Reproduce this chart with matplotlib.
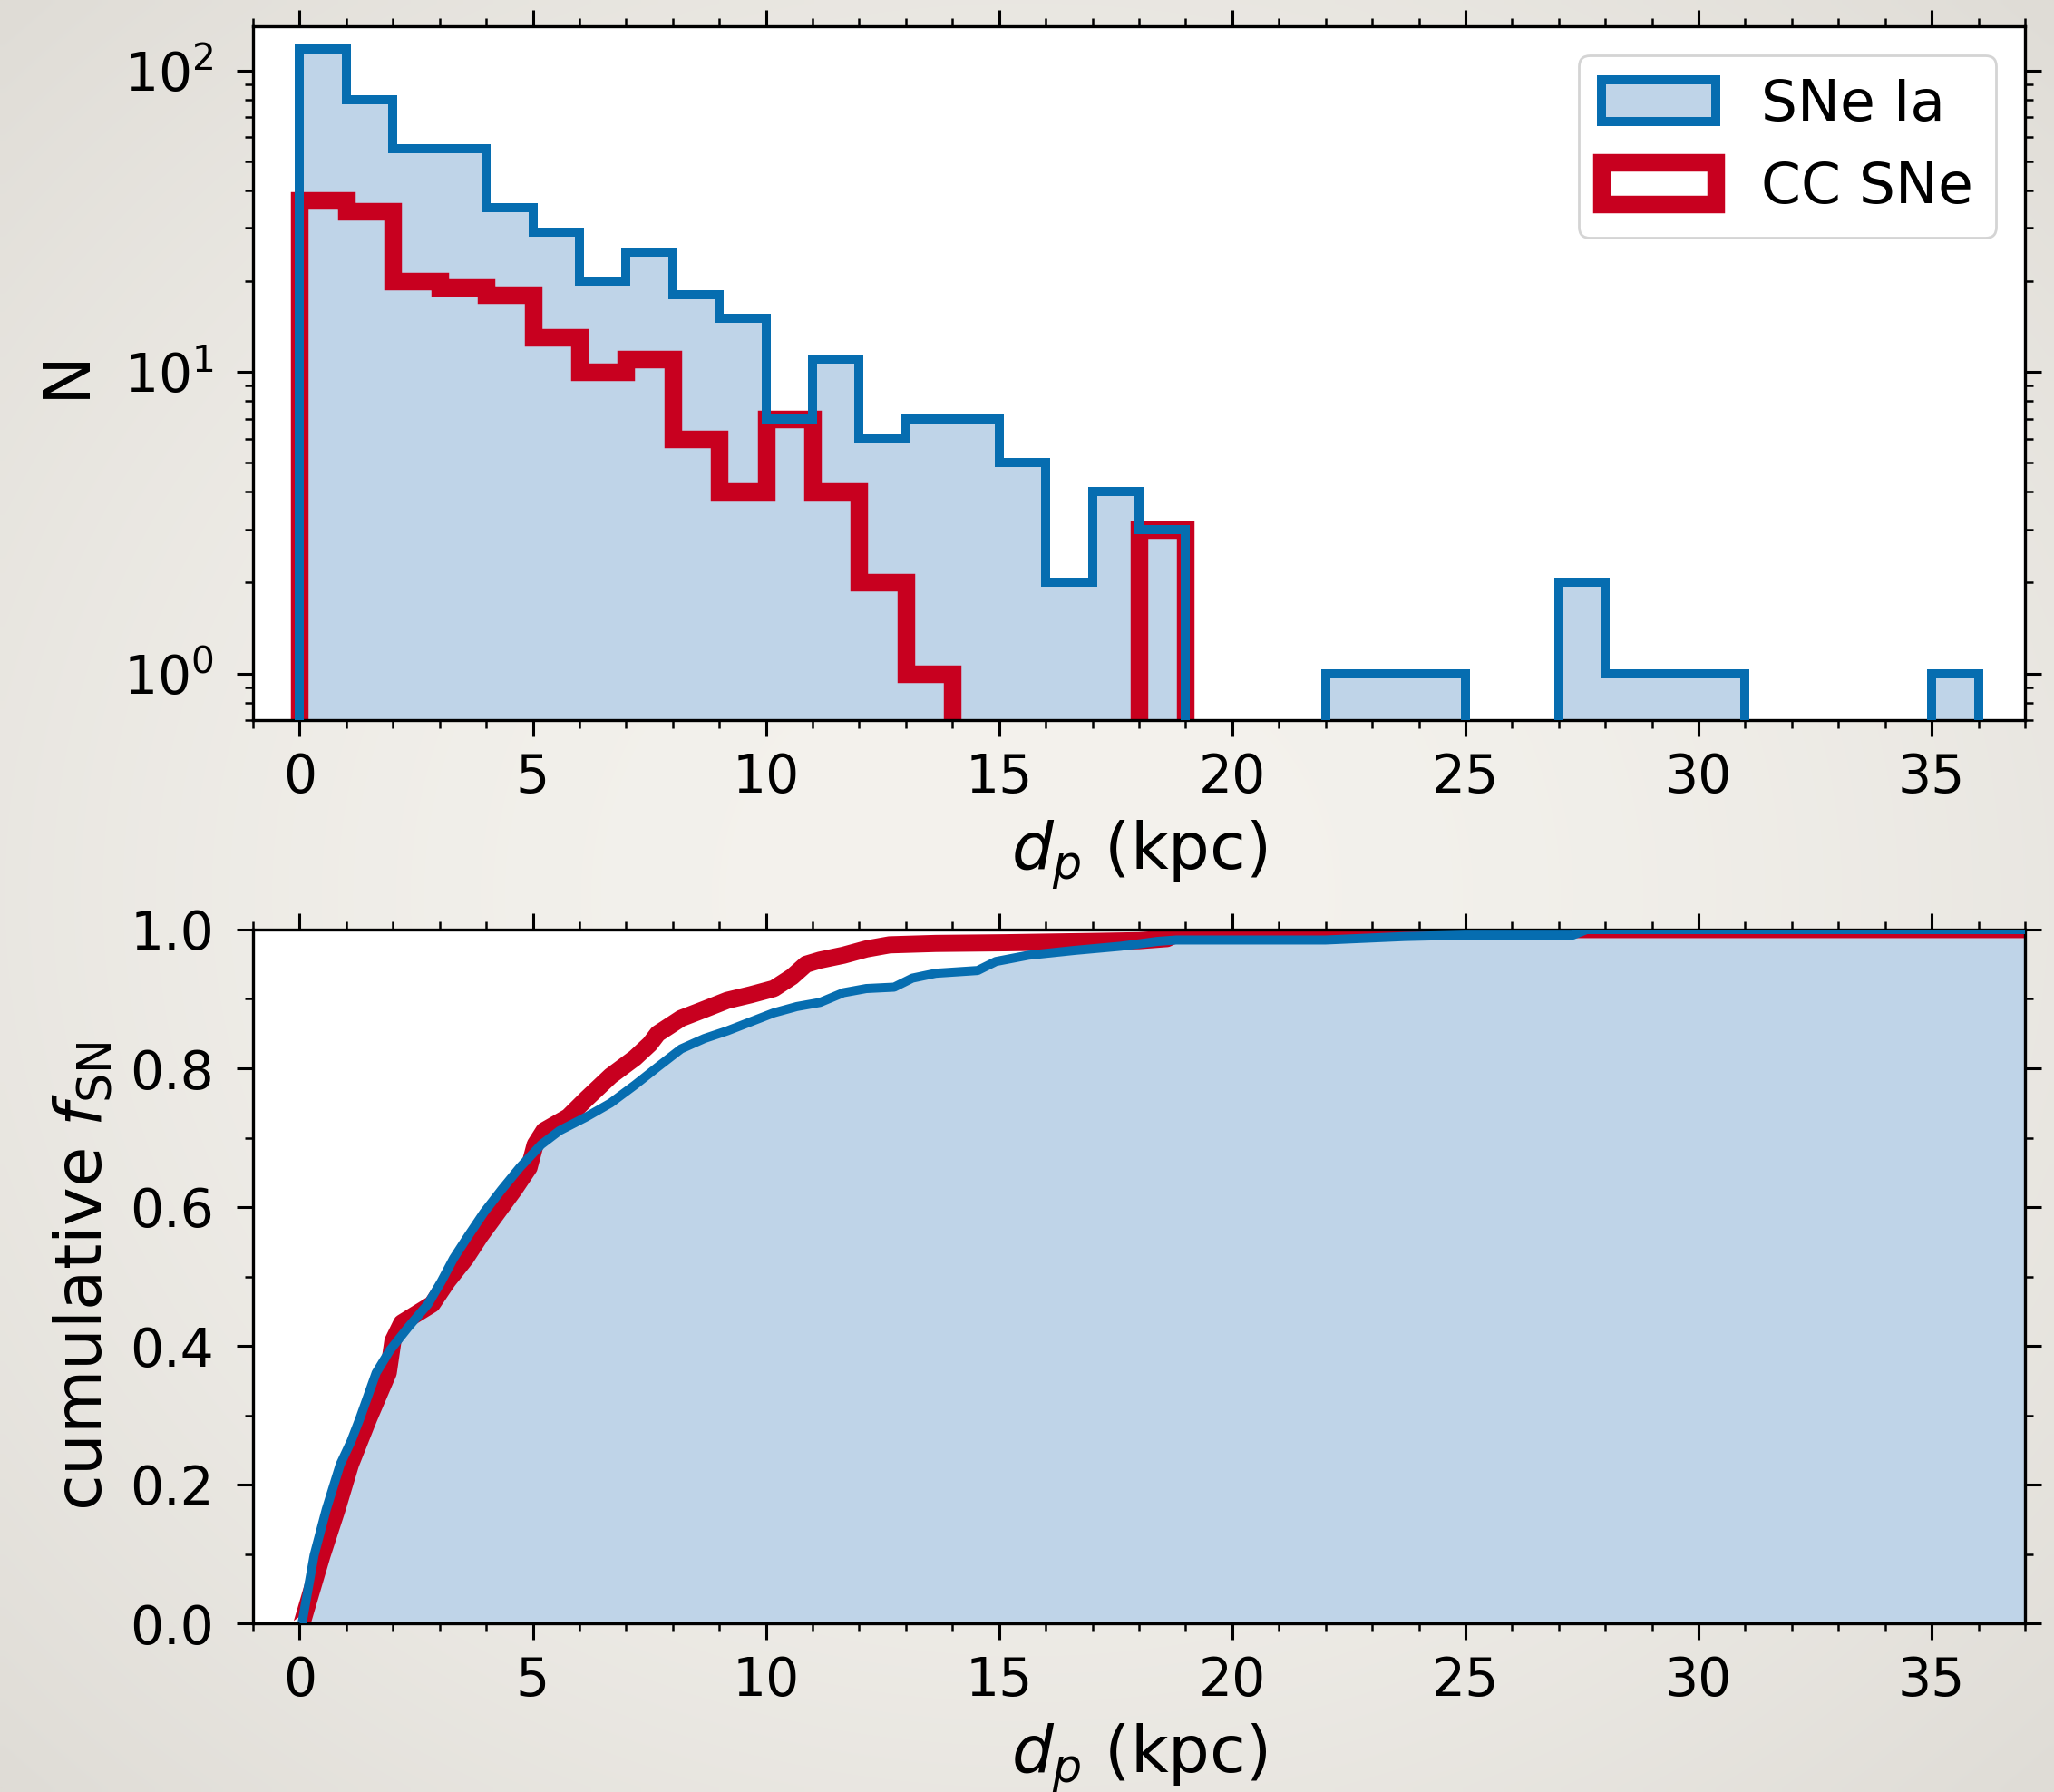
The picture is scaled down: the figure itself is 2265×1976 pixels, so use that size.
import numpy as np
import matplotlib
matplotlib.use("Agg")
import matplotlib.pyplot as plt
from matplotlib.patches import Patch

# ---------------- data ----------------
bin_edges_ia = list(range(0, 37))          # 1-kpc bins, 0..36
counts_ia = [118, 80, 55, 55, 35, 29, 20, 25, 18, 15, 7, 11, 6, 7, 7, 5, 2, 4, 3,
             0, 0, 0, 1, 1, 1, 0, 0, 2, 1, 1, 1, 0, 0, 0, 0, 1]
bin_edges_cc = list(range(0, 20))          # 1-kpc bins, 0..19
counts_cc = [37, 34, 20, 19, 18, 13, 10, 11, 6, 4, 7, 4, 2, 1, 0, 0, 0, 0, 3]

# cumulative fractions
cdf_ia_x = [0.0, 0.05, 0.31, 0.57, 0.87, 1.10, 1.29, 1.64, 1.94, 2.33, 2.75, 3.04,
            3.30, 3.62, 3.95, 4.33, 4.72, 5.18, 5.57, 6.15, 6.67, 7.19, 7.68, 8.18,
            8.68, 9.17, 9.67, 10.17, 10.66, 11.16, 11.66, 12.15, 12.75, 13.14,
            13.64, 14.54, 14.93, 15.63, 16.62, 17.61, 18.40, 18.80, 22.0, 23.7,
            25.0, 27.3, 27.6, 37.0]
cdf_ia_y = [0.0, 0.0, 0.098, 0.164, 0.229, 0.262, 0.295, 0.361, 0.394, 0.427, 0.460,
            0.493, 0.526, 0.559, 0.592, 0.625, 0.657, 0.690, 0.710, 0.730, 0.750,
            0.776, 0.802, 0.828, 0.843, 0.854, 0.867, 0.880, 0.889, 0.895, 0.909,
            0.915, 0.917, 0.930, 0.937, 0.941, 0.954, 0.963, 0.970, 0.976, 0.983,
            0.985, 0.985, 0.990, 0.992, 0.992, 1.0, 1.0]
cdf_cc_x = [0.0, 0.05, 0.48, 0.80, 1.09, 1.48, 1.90, 2.00, 2.19, 2.84, 3.17, 3.56,
            3.88, 4.24, 4.60, 4.92, 5.05, 5.24, 5.76, 6.15, 6.67, 7.19, 7.51, 7.68,
            8.18, 8.68, 9.17, 9.67, 10.17, 10.56, 10.86, 11.16, 11.66, 12.15, 12.65,
            13.64, 15.13, 17.11, 18.0, 18.6, 19.0, 37.0]
cdf_cc_y = [0.0, 0.0, 0.098, 0.164, 0.229, 0.295, 0.361, 0.407, 0.433, 0.460, 0.493,
            0.526, 0.559, 0.592, 0.625, 0.657, 0.690, 0.710, 0.730, 0.756, 0.789,
            0.815, 0.835, 0.850, 0.872, 0.885, 0.898, 0.906, 0.915, 0.932, 0.950,
            0.956, 0.963, 0.972, 0.978, 0.980, 0.981, 0.983, 0.984, 0.987, 1.0, 1.0]

label_ia = "SNe Ia"
label_cc = "CC SNe"

# ---------------- style ----------------
C_BLUE = "#066db0"
C_RED = "#c8001f"
C_FILL = "#bfd4e8"
DPI = 200
FS_TICK = 21
FS_LABEL = 26
FS_LEGEND = 22.7

plt.rcParams.update({
    "font.family": ["DejaVu Sans"],
    "axes.linewidth": 1.2,
    "xtick.major.width": 1.1, "ytick.major.width": 1.1,
    "xtick.minor.width": 0.9, "ytick.minor.width": 0.9,
    "xtick.major.size": 6.5, "ytick.major.size": 6.5,
    "xtick.minor.size": 3.4, "ytick.minor.size": 3.4,
    "xtick.major.pad": 6.0, "ytick.major.pad": 9.0,
    "xtick.minor.pad": 6.0, "ytick.minor.pad": 9.0,
    "xtick.labelsize": FS_TICK, "ytick.labelsize": FS_TICK,
})

fig = plt.figure(figsize=(2265 / DPI, 1976 / DPI), dpi=DPI)

# paper-like background with slight vignette
bg = fig.add_axes([0, 0, 1, 1], zorder=-10)
yy, xx = np.mgrid[-1:1:200j, -1:1:200j]
r = np.clip(np.sqrt(xx ** 2 + yy ** 2) / np.sqrt(2), 0, 1)
c0 = np.array([244, 242, 237]) / 255.0
c1 = np.array([223, 220, 214]) / 255.0
img = c0[None, None, :] + (c1 - c0)[None, None, :] * (r[..., None] ** 2)
bg.imshow(img, aspect="auto", extent=[0, 1, 0, 1], interpolation="bilinear")
bg.axis("off")

L, R = 279 / 2265, 2233 / 2265
ax1 = fig.add_axes([L, 1 - 794 / 1976, R - L, (794 - 29) / 1976])
ax2 = fig.add_axes([L, 1 - 1790 / 1976, R - L, (1790 - 1025) / 1976])

# ---------------- top: histograms ----------------
floor = 1e-2
ia = np.array(counts_ia, dtype=float)
cc = np.array(counts_cc, dtype=float)
ia_vals = np.where(ia > 0, ia, floor)
cc_vals = np.where(cc > 0, cc, floor)

ax1.set_yscale("log")
ax1.stairs(ia_vals, bin_edges_ia, baseline=floor, fill=True, color=C_FILL, lw=0, zorder=1)
ax1.stairs(cc_vals, bin_edges_cc, baseline=floor, fill=False, edgecolor=C_RED, lw=7.0, zorder=2)
ax1.stairs(ia_vals, bin_edges_ia, baseline=floor, fill=False, edgecolor=C_BLUE, lw=3.6, zorder=3)
ax1.set_xlim(-1, 37)
ax1.set_ylim(0.7, 140)
ax1.set_ylabel("N", fontsize=FS_LABEL, labelpad=10)
ax1.set_xlabel(r"$d_p$ (kpc)", fontsize=FS_LABEL, labelpad=6)

handles = [Patch(facecolor=C_FILL, edgecolor=C_BLUE, lw=3.6, label=label_ia),
           Patch(facecolor="white", edgecolor=C_RED, lw=7.0, label=label_cc)]
leg = ax1.legend(handles=handles, loc="upper right", fontsize=FS_LEGEND,
                 handlelength=2.0, handleheight=0.75, framealpha=1.0)
leg.get_frame().set_edgecolor("#d4d4d4")

# ---------------- bottom: cumulative ----------------
ax2.fill_between(cdf_ia_x, 0, cdf_ia_y, color=C_FILL, lw=0, zorder=1)
ax2.plot(cdf_cc_x, cdf_cc_y, color=C_RED, lw=6.8, zorder=2, solid_capstyle="butt")
ax2.plot(cdf_ia_x, cdf_ia_y, color=C_BLUE, lw=3.6, zorder=3, solid_capstyle="butt")
ax2.set_xlim(-1, 37)
ax2.set_ylim(0.0, 1.0)
ax2.set_yticks([0.0, 0.2, 0.4, 0.6, 0.8, 1.0])
ax2.set_yticks(np.arange(0.1, 1.0, 0.2), minor=True)
ax2.yaxis.set_major_formatter(matplotlib.ticker.FormatStrFormatter("%.1f"))
ax2.set_ylabel(r"cumulative $f_{\rm SN}$", fontsize=FS_LABEL, labelpad=6)
ax2.set_xlabel(r"$d_p$ (kpc)", fontsize=FS_LABEL, labelpad=6)

for ax in (ax1, ax2):
    ax.set_facecolor("white")
    ax.set_xticks([0, 5, 10, 15, 20, 25, 30, 35])
    ax.xaxis.set_minor_locator(matplotlib.ticker.MultipleLocator(1))
    ax.tick_params(which="both", direction="out", top=True, right=True)

fig.savefig("out.png", dpi=DPI)
